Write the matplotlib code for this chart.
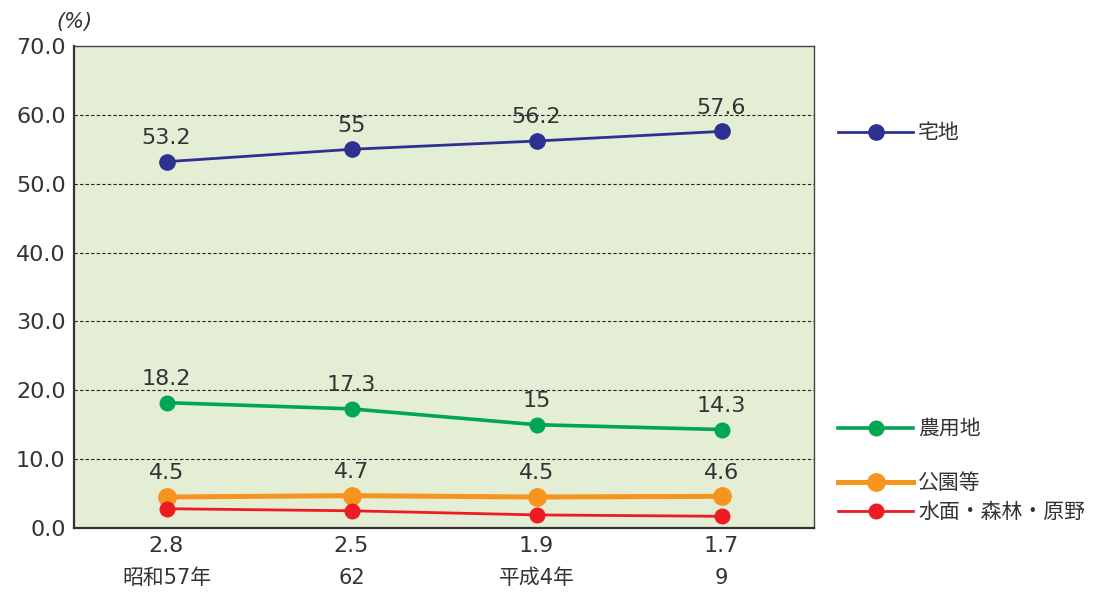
import matplotlib
matplotlib.use("Agg")
import matplotlib.pyplot as plt
from matplotlib.lines import Line2D

plt.rcParams['font.family'] = ['DejaVu Sans', 'Noto Sans CJK JP']

categories_year = ["昭和57年", "62", "平成4年", "9"]
residential = [53.2, 55, 56.2, 57.6]
farmland = [18.2, 17.3, 15, 14.3]
parks = [4.5, 4.7, 4.5, 4.6]
water_forest = [2.8, 2.5, 1.9, 1.7]
water_labels = ["2.8", "2.5", "1.9", "1.7"]
residential_labels = ["53.2", "55", "56.2", "57.6"]
farmland_labels = ["18.2", "17.3", "15", "14.3"]
parks_labels = ["4.5", "4.7", "4.5", "4.6"]
yticks = [0, 10, 20, 30, 40, 50, 60, 70]

series = [
    ("宅地", residential, residential_labels, "#2E3192", 2.0, 11),
    ("農用地", farmland, farmland_labels, "#00A651", 2.6, 10.5),
    ("公園等", parks, parks_labels, "#F7941D", 3.6, 12.5),
    ("水面・森林・原野", water_forest, None, "#ED1C24", 2.0, 10.5),
]

txt = '#333333'
fig = plt.figure(figsize=(11.01, 5.94), dpi=100)
ax = fig.add_axes([74/1101, 1-528/594, (814-74)/1101, (528-46)/594])
ax.set_facecolor("#E3EED5")
x = list(range(len(categories_year)))

for name, vals, labels, color, lw, ms in series:
    ax.plot(x, vals, color=color, lw=lw, marker='o', ms=ms, zorder=3, solid_capstyle='butt')
    if labels:
        for xi, v, lab in zip(x, vals, labels):
            ax.annotate(lab, (xi, v), xytext=(0, 17), textcoords='offset points',
                        ha='center', va='center', fontsize=16, color=txt)

ax.set_xlim(-0.5, 3.5)
ax.set_ylim(0, 70)
ax.set_yticks(yticks)
ax.set_yticklabels([f"{t:.1f}" for t in yticks], fontsize=16, color=txt)
ax.tick_params(axis='y', length=0, pad=6)
ax.set_xticks(x)
ax.set_xticklabels([])
ax.tick_params(axis='x', length=0)
for xi, w, yr in zip(x, water_labels, categories_year):
    ax.annotate(w, (xi, 0), xytext=(0, -13), textcoords='offset points',
                ha='center', va='center', fontsize=16, color=txt, annotation_clip=False)
    ax.annotate(yr, (xi, 0), xytext=(0, -36), textcoords='offset points',
                ha='center', va='center', fontsize=15, color=txt, annotation_clip=False)

for yv in yticks[1:-1]:
    ax.axhline(yv, color='#222222', lw=0.8, ls=(0, (3, 2)), zorder=1)

for side in ['left', 'bottom']:
    ax.spines[side].set_linewidth(1.6)
    ax.spines[side].set_color('#333333')
for side in ['top', 'right']:
    ax.spines[side].set_linewidth(1.0)
    ax.spines[side].set_color('#444444')

fig.text(74/1101, 1-22/594, "(%)", fontsize=15, style='italic', ha='center', va='center', color=txt)

legend_y = [133, 429, 483, 512]
for (name, vals, labels, color, lw, ms), ly in zip(series, legend_y):
    h = Line2D([], [], color=color, lw=lw, marker='o', ms=ms)
    fig.legend([h], [name], loc='center left', bbox_to_anchor=(838/1101, 1-ly/594),
               frameon=False, fontsize=15, handlelength=3.6, handletextpad=0.25,
               borderpad=0, borderaxespad=0, labelcolor=txt)

fig.savefig("out.png", dpi=100)
